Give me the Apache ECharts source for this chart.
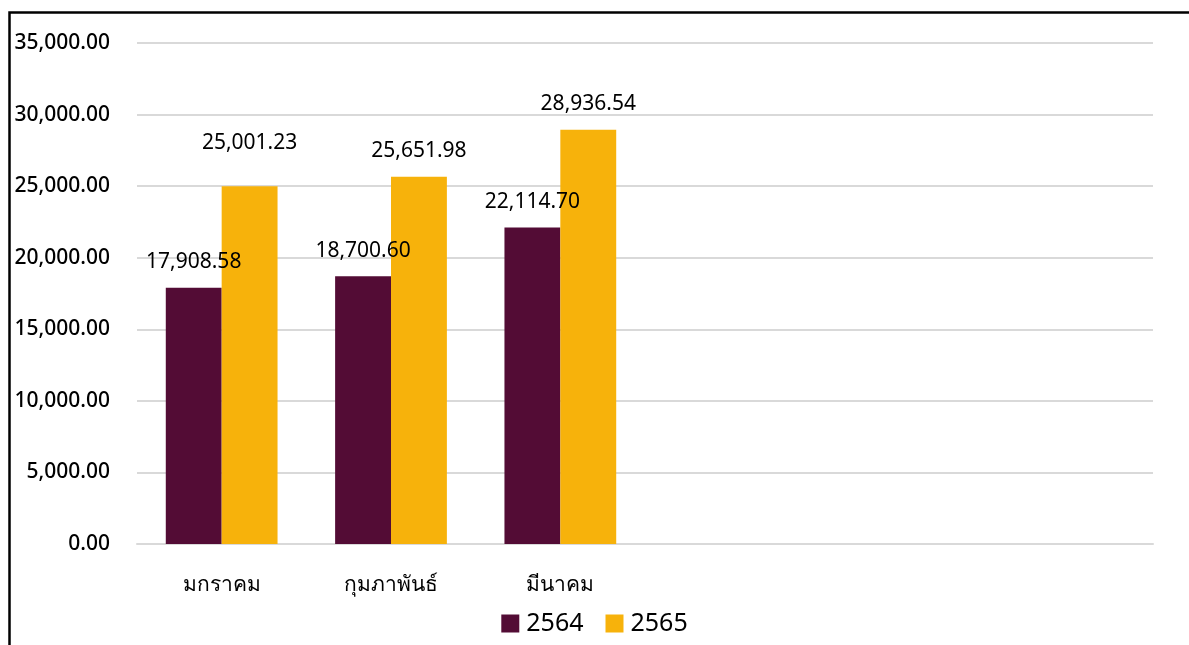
<!DOCTYPE html>
<html>
<head>
<meta charset="utf-8">
<script src="https://cdn.jsdelivr.net/npm/echarts@6/dist/echarts.min.js"></script>
<style>html,body{margin:0;padding:0;background:#fff}#c{width:1189px;height:645px}</style>
</head>
<body>
<div id="c"></div>
<script>
const categories = ['มกราคม', 'กุมภาพันธ์', 'มีนาคม', '', ' ', '  '];
const seriesNames = ['2564', '2565'];
const values2564 = [17908.58, 18700.60, 22114.70, null, null, null];
const values2565 = [25001.23, 25651.98, 28936.54, null, null, null];
const yTicks = [0, 5000, 10000, 15000, 20000, 25000, 30000, 35000];

const FONT = '"Noto Sans", "Open Sans", sans-serif';
const fmt = v => Number(v).toLocaleString('en-US', {minimumFractionDigits: 2, maximumFractionDigits: 2});

function makeData(vals, extraIdx, extraDist) {
  return vals.map((v, i) => {
    if (i === extraIdx) return {value: v, label: {distance: extraDist}};
    return v;
  });
}

const chart = echarts.init(document.getElementById('c'));
chart.setOption({
  animation: false,
  backgroundColor: '#fff',
  graphic: [{
    type: 'rect', left: 7, top: 10,
    shape: {x: 0, y: 0, width: 1400, height: 900},
    style: {fill: 'none', stroke: '#000', lineWidth: 2.5},
    z: 100, silent: true
  }],
  grid: {left: 137, right: 36, top: 43, bottom: 101, containLabel: false},
  legend: {
    data: seriesNames,
    left: 'center', top: 606,
    itemWidth: 18, itemHeight: 18, itemGap: 22,
    icon: 'rect',
    textStyle: {fontFamily: FONT, fontSize: 25, color: '#000', padding: [2, 0, 0, 2]}
  },
  xAxis: {
    type: 'category',
    data: categories,
    axisLine: {lineStyle: {color: '#d9d9d9', width: 2}},
    axisTick: {show: false},
    axisLabel: {fontFamily: FONT, fontSize: 21, fontWeight: 500, color: '#000', margin: 31, interval: 0}
  },
  yAxis: {
    type: 'value',
    min: yTicks[0], max: yTicks[yTicks.length - 1], interval: yTicks[1] - yTicks[0],
    axisLine: {show: false},
    axisTick: {show: false},
    splitLine: {lineStyle: {color: '#d9d9d9', width: 2}},
    axisLabel: {fontFamily: FONT, fontSize: 21, fontWeight: 500, color: '#000', margin: 27, formatter: v => fmt(v)}
  },
  series: [
    {
      name: seriesNames[0], type: 'bar', data: makeData(values2564, -1, 0),
      barGap: '0%', barCategoryGap: '34%',
      itemStyle: {color: '#530c35'},
      label: {show: true, position: 'top', distance: 15, fontFamily: FONT, fontSize: 21, color: '#000', formatter: p => fmt(p.value)}
    },
    {
      name: seriesNames[1], type: 'bar', data: makeData(values2565, 0, 33),
      itemStyle: {color: '#f7b20b'},
      label: {show: true, position: 'top', distance: 15, fontFamily: FONT, fontSize: 21, color: '#000', formatter: p => fmt(p.value)}
    }
  ]
});
</script>
</body>
</html>
